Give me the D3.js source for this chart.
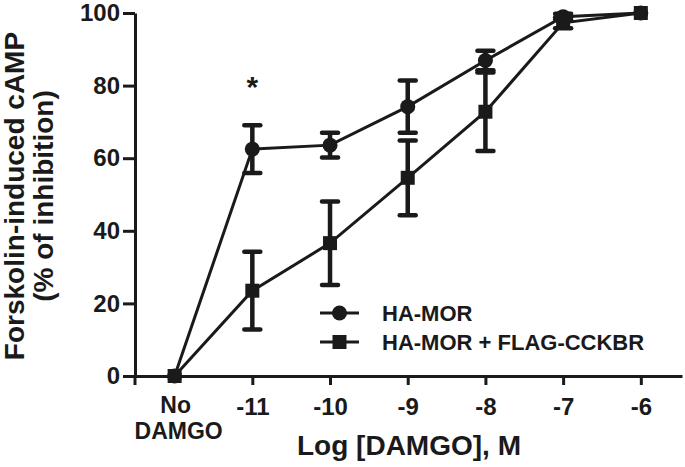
<!DOCTYPE html>
<html>
<head>
<meta charset="utf-8">
<script src="https://cdn.jsdelivr.net/npm/d3@7"></script>
<style>
  html, body { margin: 0; padding: 0; background: #fff; }
  svg { display: block; }
  text { font-family: "Liberation Sans", Arial, Helvetica, sans-serif; font-weight: bold; fill: #1a1a1a; }
</style>
</head>
<body>
<svg id="chart" width="685" height="467"></svg>
<script>
// ---- data ----
const categories = ["No DAMGO", "-11", "-10", "-9", "-8", "-7", "-6"];
const haMor = [0, 62.5, 63.6, 74.2, 86.9, 99.0, 100];
const haMorSem = [0, 6.6, 3.4, 7.2, 2.7, 0.8, 0];
const haMorCckbr = [0, 23.5, 36.6, 54.6, 72.8, 97.3, 100];
const haMorCckbrSem = [0, 10.7, 11.5, 10.3, 10.8, 1.5, 0];
const yTicks = [0, 20, 40, 60, 80, 100];
const seriesNames = ["HA-MOR", "HA-MOR + FLAG-CCKBR"];
const significance = [{ index: 1, label: "*" }];

const ink = "#1a1a1a";
const svg = d3.select("#chart");

const x = d3.scaleLinear().domain([-0.51, categories.length - 1 + 0.53]).range([135, 682]);
const y = d3.scaleLinear().domain([0, 100]).range([376, 13]);

// ---- y axis ----
const yAxis = svg.append("g").attr("transform", `translate(${x(-0.51)},0)`)
  .call(d3.axisLeft(y).tickValues(yTicks).tickSize(12).tickPadding(3).tickSizeOuter(0));
yAxis.select(".domain").attr("stroke", ink).attr("stroke-width", 3);
yAxis.selectAll(".tick line").attr("stroke", ink).attr("stroke-width", 3);
yAxis.selectAll(".tick text").style("font-size", "24px").attr("fill", ink);

// ---- x axis ----
const xAxis = svg.append("g").attr("transform", `translate(0,${y(0)})`)
  .call(d3.axisBottom(x).tickValues(d3.range(1, categories.length)).tickSize(9).tickSizeOuter(0)
    .tickFormat(d => categories[d]));
xAxis.select(".domain").attr("stroke", ink).attr("stroke-width", 3);
xAxis.selectAll(".tick line").attr("stroke", ink).attr("stroke-width", 3);
xAxis.selectAll(".tick text").style("font-size", "24px").attr("fill", ink).attr("y", 39).attr("dy", 0);
// two-line first category, as two separate text lines
categories[0].split(" ").forEach((w, k) => {
  xAxis.append("text").attr("x", x(0) + (k === 0 ? 1 : 4)).attr("y", 37 + k * 26)
    .attr("text-anchor", "middle").style("font-size", "23px").text(w);
});
// small outer tick at left end
xAxis.append("line").attr("x1", x(-0.51)).attr("x2", x(-0.51)).attr("y1", 0).attr("y2", 9)
  .attr("stroke", ink).attr("stroke-width", 3);

// ---- axis titles ----
svg.append("text").attr("transform", "translate(24,196) rotate(-90)").attr("text-anchor", "middle")
  .style("font-size", "28px").text("Forskolin-induced cAMP");
svg.append("text").attr("transform", "translate(53,196) rotate(-90)").attr("text-anchor", "middle")
  .style("font-size", "28px").text("(% of inhibition)");
svg.append("text").attr("x", 409).attr("y", 455).attr("text-anchor", "middle")
  .style("font-size", "28px").text("Log [DAMGO], M");

// ---- series ----
const series = [
  { name: seriesNames[0], values: haMor, sem: haMorSem, shape: "circle" },
  { name: seriesNames[1], values: haMorCckbr, sem: haMorCckbrSem, shape: "square" }
];
const line = d3.line().x((d, i) => x(i)).y(d => y(d));

series.forEach(s => {
  svg.append("path").attr("d", line(s.values)).attr("fill", "none").attr("stroke", ink).attr("stroke-width", 3);
});

series.forEach(s => {
  const g = svg.append("g");
  s.values.forEach((v, i) => {
    if (!s.sem[i]) return;
    const cx = x(i), top = y(v + s.sem[i]), bot = y(v - s.sem[i]);
    g.append("line").attr("x1", cx).attr("x2", cx).attr("y1", top).attr("y2", bot)
      .attr("stroke", ink).attr("stroke-width", 4.5);
    [top, bot].forEach(yy => g.append("line").attr("x1", cx - 8).attr("x2", cx + 8).attr("y1", yy).attr("y2", yy)
      .attr("stroke", ink).attr("stroke-width", 4.5).attr("stroke-linecap", "round"));
  });
});

function drawMarker(g, shape, cx, cy) {
  if (shape === "circle") {
    g.append("circle").attr("cx", cx).attr("cy", cy).attr("r", 7.5).attr("fill", ink);
  } else {
    g.append("rect").attr("x", cx - 7).attr("y", cy - 7).attr("width", 14).attr("height", 14).attr("fill", ink);
  }
}

series.slice().reverse().forEach(s => {
  const g = svg.append("g");
  s.values.forEach((v, i) => drawMarker(g, s.shape, x(i), y(v)));
});

// ---- significance ----
significance.forEach(sg => {
  svg.append("text").attr("x", x(sg.index)).attr("y", y(haMor[sg.index] + haMorSem[sg.index]) - 28)
    .attr("text-anchor", "middle").style("font-size", "30px").text(sg.label);
});

// ---- legend ----
const legend = svg.append("g");
series.forEach((s, k) => {
  const ly = 313 + k * 29;
  legend.append("line").attr("x1", 320).attr("x2", 359).attr("y1", ly).attr("y2", ly)
    .attr("stroke", ink).attr("stroke-width", 3);
  drawMarker(legend, s.shape, 339.5, ly);
  legend.append("text").attr("x", 382).attr("y", ly + 8).style("font-size", "22px").text(s.name);
});
</script>
</body>
</html>
